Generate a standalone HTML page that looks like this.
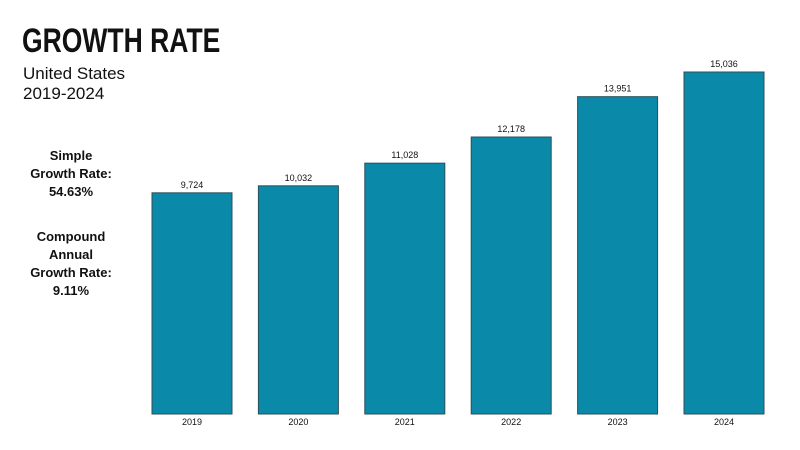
<!DOCTYPE html>
<html><head><meta charset="utf-8"><style>
html,body{margin:0;padding:0;background:#fff;}
svg{display:block;font-family:"Liberation Sans",sans-serif;}
</style></head><body>
<svg id="chart" width="800" height="450" viewBox="0 0 800 450">
<text x="22" y="52" font-size="34" font-weight="bold" transform="translate(22,0) scale(0.78,1) translate(-22,0)" fill="#111">GROWTH RATE</text>
<text x="23" y="79" font-size="17" fill="#111">United States</text>
<text x="23" y="99" font-size="17" fill="#111">2019-2024</text>
<g font-size="13" font-weight="bold" fill="#111" text-anchor="middle">
<text x="71" y="160">Simple</text><text x="71" y="178">Growth Rate:</text><text x="71" y="196">54.63%</text>
</g>
<g font-size="13" font-weight="bold" fill="#111" text-anchor="middle">
<text x="71" y="241">Compound</text><text x="71" y="259">Annual</text><text x="71" y="277">Growth Rate:</text><text x="71" y="295">9.11%</text>
</g>
<g id="bars"></g>
</svg>
<script>
const categories=["2019","2020","2021","2022","2023","2024"];
const values=[9724,10032,11028,12178,13951,15036];
const valueLabels=["9,724","10,032","11,028","12,178","13,951","15,036"];
const NS="http://www.w3.org/2000/svg";
const g=document.getElementById('bars');
const x0=152,step=106.4,bw=80,base=414,maxV=15036,maxH=342;
function xPos(i){return x0+i*step;}
function yPos(v){return base-v/maxV*maxH;}
categories.forEach((c,i)=>{
  const r=document.createElementNS(NS,'rect');
  
  
  r.setAttribute('x',xPos(i));r.setAttribute('y',yPos(values[i]));
  r.setAttribute('width',bw);r.setAttribute('height',base-yPos(values[i]));
  r.setAttribute('fill','#0a8aa8');r.setAttribute('stroke','#2b4f5a');r.setAttribute('stroke-width','1');
  g.appendChild(r);
  const t=document.createElementNS(NS,'text');
  
  
  t.setAttribute('x',xPos(i)+bw/2);t.setAttribute('y',yPos(values[i])-5);
  t.setAttribute('text-anchor','middle');t.setAttribute('font-size','9');t.setAttribute('fill','#111');
  t.textContent=valueLabels[i];g.appendChild(t);
  const l=document.createElementNS(NS,'text');
  
  
  l.setAttribute('x',xPos(i)+bw/2);l.setAttribute('y',425);
  l.setAttribute('text-anchor','middle');l.setAttribute('font-size','9');l.setAttribute('fill','#111');
  l.textContent=c;g.appendChild(l);
});
</script>
</body></html>
